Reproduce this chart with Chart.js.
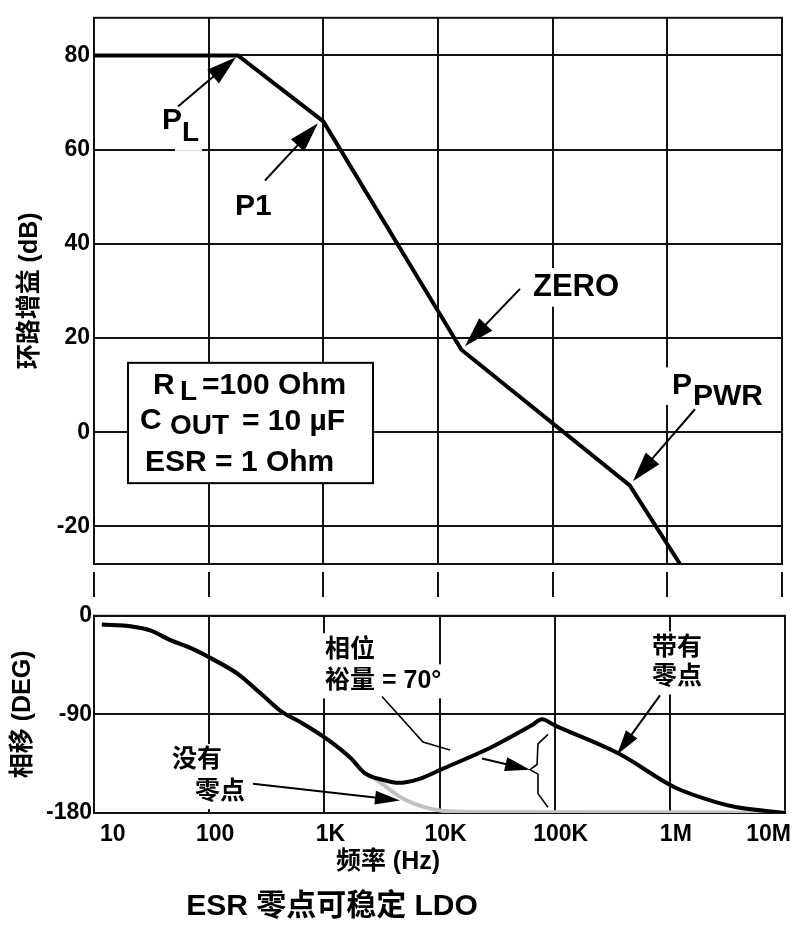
<!DOCTYPE html>
<html><head><meta charset="utf-8">
<script src="https://cdn.jsdelivr.net/npm/chart.js@4.4.1/dist/chart.umd.min.js"></script>
<style>
html,body{margin:0;padding:0;background:#fff;width:806px;height:925px;overflow:hidden;}
#wrap{position:relative;width:806px;height:925px;background:#fff;}
canvas{position:absolute;left:0;}
#c1{top:0;} #c2{top:600px;}
</style></head><body>
<div id="wrap"><canvas id="c1" width="806" height="600"></canvas><canvas id="c2" width="806" height="325"></canvas></div>
<script>
// ---------------- data ----------------
const freqTicks = [10, 100, 1000, 10000, 100000, 1000000, 10000000];
const freqTickLabels = ['10', '100', '1K', '10K', '100K', '1M', '10M'];
const gainTicks = [-20, 0, 20, 40, 60, 80];
const phaseTicks = [-180, -90, 0];

const gainFreq = [10, 180, 1000, 16000, 470000, 1290000];
const gainDb   = [80, 80, 66, 17.5, -11.3, -28];

const phaseFreq = [11.7, 20.6, 30.8, 46, 68.7, 109, 177, 281, 419, 631, 1072, 1700, 2239, 3311, 4365, 6607, 10470, 28180, 63100, 77620, 100000, 363100, 1122000, 2692000, 3715000, 10000000];
const phaseDeg  = [-8, -9.5, -13.3, -22.2, -29.3, -40, -53, -71, -87, -97.5, -113, -130, -143.5, -150, -152.5, -149, -140, -120, -100, -94.5, -100, -126, -157, -171, -174.5, -180];

const noZeroFreq = [11.7, 20.6, 30.8, 46, 68.7, 109, 177, 281, 419, 631, 1072, 1700, 2239, 2692, 4677, 7413, 10470, 19050, 10000000];
const noZeroDeg  = [-8, -9.5, -13.3, -22.2, -29.3, -40, -53, -71, -87, -97.5, -113, -130, -143.5, -148, -166, -174.7, -178, -179, -179.5];

// ---------------- annotation layout (in data coords: log10(f), value) ----------------
const topLabels = [
  {t:'P', lf:1.593, v:64.34, s:30},
  {t:'L', lf:1.767, v:61.83, s:28},
  {t:'P1', lf:2.2296, v:46.12, s:30},
  {t:'ZERO', lf:4.828, v:28.95, s:31},
  {t:'P', lf:6.041, v:8.02, s:30},
  {t:'PWR', lf:6.224, v:5.71, s:30}
];
const paramBox = [1.2965, 14.72, 3.433, -10.83];
const boxLabels = [
  {t:'R', lf:1.5145, v:8.02, s:30},
  {t:'L', lf:1.75, v:6.76, s:28},
  {t:'=100 Ohm', lf:1.9418, v:8.02, s:30},
  {t:'C', lf:1.4012, v:0.69, s:30},
  {t:'OUT', lf:1.6628, v:-0.36, s:28},
  {t:'= 10 µF', lf:2.2907, v:0.48, s:30},
  {t:'ESR = 1 Ohm', lf:1.4448, v:-8.32, s:30}
];
const topArrows = [[1.7325,69.16,2.238,79.62],[2.491,53.45,2.953,65.6],[4.715,30.42,4.235,18.27],[6.241,4.87,5.700,-10.41]];

const bottomLabels = [
  {t:'相位', lf:3.0057, v:-31.0},
  {t:'裕量 = 70°', lf:3.0057, v:-59.4},
  {t:'没有', lf:1.6773, v:-132.1},
  {t:'零点', lf:1.877, v:-160.5},
  {t:'带有', lf:5.845, v:-29.3},
  {t:'零点', lf:5.845, v:-55.9}
];
const bottomArrows = [[2.3806,-153.4,3.657,-168.5],[4.369,-130.3,4.786,-140.5],[5.9145,-72.7,5.541,-126.8]];
const leaderLine = [[3.5007,-73.6],[3.8567,-115.3],[4.091,-122.4]];
const braceLine = [[4.942,-108.2],[4.855,-117.0],[4.847,-135.7],[4.786,-140.5],[4.855,-144.5],[4.855,-162.3],[4.942,-174.7]];

// ---------------- helpers ----------------
const LATIN = '"Liberation Sans", Arial, "Noto Sans CJK SC", sans-serif';
const MIXED = '"Liberation Sans", "Noto Sans CJK SC", sans-serif';
const INK = '#000';
const GRID = '#111';

function pt(chart, lf, v) {
  return [chart.scales.x.getPixelForValue(Math.pow(10, lf)), chart.scales.y.getPixelForValue(v)];
}
function arrow(ctx, x1, y1, x2, y2, hl, hw) {
  const dx = x2 - x1, dy = y2 - y1, L = Math.hypot(dx, dy), ux = dx / L, uy = dy / L;
  const bx = x2 - ux * hl, by = y2 - uy * hl;
  ctx.beginPath(); ctx.moveTo(x1, y1); ctx.lineTo(bx + ux * 2, by + uy * 2); ctx.stroke();
  ctx.beginPath(); ctx.moveTo(x2, y2);
  ctx.lineTo(bx - uy * hw, by + ux * hw);
  ctx.lineTo(bx + uy * hw, by - ux * hw);
  ctx.closePath(); ctx.fill();
}
function frame(chart) {
  const a = chart.chartArea, ctx = chart.ctx;
  ctx.save(); ctx.strokeStyle = GRID; ctx.lineWidth = 2;
  ctx.strokeRect(a.left, a.top, a.right - a.left, a.bottom - a.top);
  ctx.restore();
}
const xDecades = s => { s.ticks = freqTicks.map(v => ({value: v})); };
const gridOpt = {color: GRID, lineWidth: 2, drawTicks: false};
const borderOpt = {display: true, color: GRID, width: 2};

Chart.defaults.font.family = MIXED;
Chart.defaults.color = INK;

// ---------------- top (gain) ----------------
const topPlugin = {
  id: 'topAnno',
  beforeDatasetsDraw(chart) {
    const ctx = chart.ctx;
    frame(chart);
    ctx.save();
    // white masks behind labels (break the grid lines)
    ctx.fillStyle = '#fff';
    topLabels.forEach(o => {
      ctx.font = 'bold ' + o.s + 'px ' + LATIN;
      const [x, y] = pt(chart, o.lf, o.v);
      const w = ctx.measureText(o.t).width;
      ctx.fillRect(x - 7, y - 0.9 * o.s, w + 10, 1.25 * o.s);
    });
    // parameter box
    const [bx1, by1] = pt(chart, paramBox[0], paramBox[1]);
    const [bx2, by2] = pt(chart, paramBox[2], paramBox[3]);
    ctx.fillRect(bx1, by1, bx2 - bx1, by2 - by1);
    ctx.strokeStyle = INK; ctx.lineWidth = 2;
    ctx.strokeRect(bx1, by1, bx2 - bx1, by2 - by1);
    ctx.restore();
  },
  afterDatasetsDraw(chart) {
    const ctx = chart.ctx;
    ctx.save();
    ctx.fillStyle = INK; ctx.strokeStyle = INK; ctx.textAlign = 'left'; ctx.textBaseline = 'alphabetic';
    topLabels.concat(boxLabels).forEach(o => {
      ctx.font = 'bold ' + o.s + 'px ' + LATIN;
      const [x, y] = pt(chart, o.lf, o.v);
      ctx.fillText(o.t, x, y);
    });
    ctx.lineWidth = 2;
    topArrows.forEach(a => {
      const [x1, y1] = pt(chart, a[0], a[1]);
      const [x2, y2] = pt(chart, a[2], a[3]);
      arrow(ctx, x1, y1, x2, y2, 30, 9);
    });
    ctx.restore();
  },
  afterDraw(chart) {
    // broken-axis dashes between the two panels
    const ctx = chart.ctx, a = chart.chartArea;
    ctx.save(); ctx.strokeStyle = GRID; ctx.lineWidth = 2;
    freqTicks.forEach(v => {
      const x = Math.round(chart.scales.x.getPixelForValue(v));
      ctx.beginPath(); ctx.moveTo(x, a.bottom + 8); ctx.lineTo(x, a.bottom + 33); ctx.stroke();
    });
    ctx.restore();
  }
};

new Chart(document.getElementById('c1'), {
  type: 'line',
  data: {datasets: [{
    data: gainFreq.map((f, i) => ({x: f, y: gainDb[i]})),
    borderColor: INK, borderWidth: 4, pointRadius: 0, tension: 0, fill: false,
    borderJoinStyle: 'miter'
  }]},
  options: {
    responsive: false, animation: false, devicePixelRatio: 1,
    layout: {padding: {top: 10, right: 24, bottom: 36, left: 0}},
    plugins: {legend: {display: false}, tooltip: {enabled: false}, title: {display: false}},
    scales: {
      x: {type: 'logarithmic', min: 10, max: 1e7, afterBuildTicks: xDecades,
          afterFit: s => { s.height = 0; },
          ticks: {display: false}, grid: gridOpt, border: borderOpt},
      y: {type: 'linear', min: -28, max: 88,
          afterBuildTicks: s => { s.ticks = gainTicks.map(v => ({value: v})); },
          afterFit: s => { s.width = 94; },
          ticks: {font: {size: 23, weight: 'bold', family: LATIN}, padding: 4, color: INK},
          grid: gridOpt, border: borderOpt,
          title: {display: true, text: '环路增益 (dB)', color: INK,
                  font: {size: 25, weight: 'bold', family: MIXED}, padding: {top: 15, bottom: 0}}}
    }
  },
  plugins: [topPlugin]
});

// ---------------- bottom (phase) ----------------
const bottomPlugin = {
  id: 'bottomAnno',
  beforeDatasetsDraw(chart) {
    const ctx = chart.ctx;
    frame(chart);
    ctx.save();
    ctx.fillStyle = '#fff';
    ctx.font = 'bold 25px ' + MIXED;
    bottomLabels.forEach(o => {
      const [x, y] = pt(chart, o.lf, o.v);
      const w = ctx.measureText(o.t).width;
      ctx.fillRect(x - 6, y - 16.5, w + 12, 34);
    });
    ctx.restore();
  },
  afterDatasetsDraw(chart) {
    const ctx = chart.ctx;
    ctx.save();
    ctx.fillStyle = INK; ctx.strokeStyle = INK;
    ctx.font = 'bold 25px ' + MIXED; ctx.textAlign = 'left'; ctx.textBaseline = 'middle';
    bottomLabels.forEach(o => {
      const [x, y] = pt(chart, o.lf, o.v);
      ctx.fillText(o.t, x, y);
    });
    ctx.lineWidth = 1.6;
    [leaderLine, braceLine].forEach(line => {
      ctx.beginPath();
      line.forEach((p, i) => { const [x, y] = pt(chart, p[0], p[1]); if (i) ctx.lineTo(x, y); else ctx.moveTo(x, y); });
      ctx.stroke();
    });
    ctx.lineWidth = 2;
    bottomArrows.forEach(a => {
      const [x1, y1] = pt(chart, a[0], a[1]);
      const [x2, y2] = pt(chart, a[2], a[3]);
      arrow(ctx, x1, y1, x2, y2, 25, 7);
    });
    ctx.restore();
  },
  afterDraw(chart) {
    const ctx = chart.ctx;
    ctx.save();
    ctx.fillStyle = INK; ctx.textAlign = 'center'; ctx.textBaseline = 'middle';
    ctx.font = 'bold 25px ' + MIXED;
    ctx.fillText('频率 (Hz)', 388, 262);
    ctx.font = 'bold 30px ' + MIXED;
    ctx.fillText('ESR 零点可稳定 LDO', 332, 307);
    ctx.restore();
  }
};

new Chart(document.getElementById('c2'), {
  type: 'line',
  data: {datasets: [
    {data: phaseFreq.map((f, i) => ({x: f, y: phaseDeg[i]})),
     borderColor: INK, borderWidth: 4, pointRadius: 0, cubicInterpolationMode: 'monotone', fill: false},
    {data: noZeroFreq.map((f, i) => ({x: f, y: noZeroDeg[i]})),
     borderColor: '#c2c2c2', borderWidth: 4, pointRadius: 0, cubicInterpolationMode: 'monotone', fill: false}
  ]},
  options: {
    responsive: false, animation: false, devicePixelRatio: 1,
    layout: {padding: {top: 10, right: 21, bottom: 72, left: 0}},
    plugins: {legend: {display: false}, tooltip: {enabled: false}, title: {display: false}},
    scales: {
      x: {type: 'logarithmic', min: 10, max: 1e7, afterBuildTicks: xDecades,
          afterFit: s => { s.height = 40; },
          ticks: {font: {size: 23, weight: 'bold', family: LATIN}, padding: 8, align: 'inner', labelOffset: 6,
                  maxRotation: 0, autoSkip: false, color: INK, callback: (v, i) => freqTickLabels[i]},
          grid: gridOpt, border: borderOpt},
      y: {type: 'linear', min: -180, max: 0,
          afterBuildTicks: s => { s.ticks = phaseTicks.map(v => ({value: v})); },
          afterFit: s => { s.width = 94; },
          ticks: {font: {size: 23, weight: 'bold', family: LATIN}, padding: 2, color: INK},
          grid: gridOpt, border: borderOpt,
          title: {display: true, text: '相移 (DEG)', color: INK,
                  font: {size: 25, weight: 'bold', family: MIXED}, padding: {top: 8, bottom: 0}}}
    }
  },
  plugins: [bottomPlugin]
});
</script>
</body></html>
